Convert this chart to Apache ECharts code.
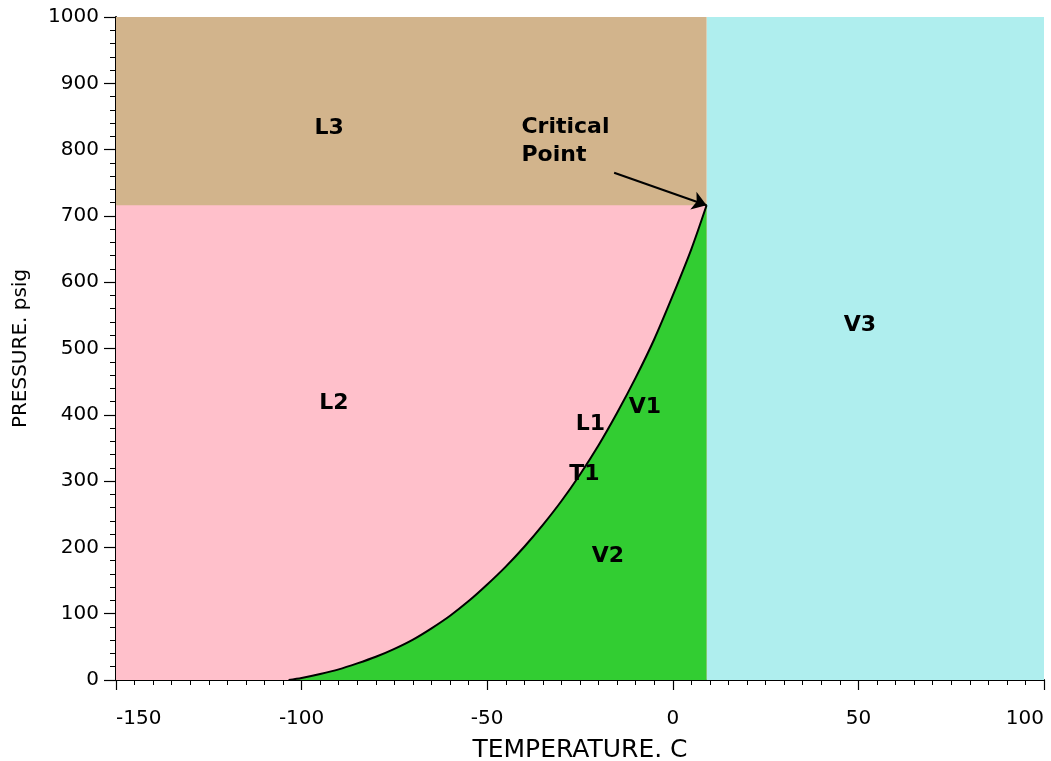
<!DOCTYPE html>
<html>
<head>
<meta charset="utf-8">
<script src="https://cdn.jsdelivr.net/npm/echarts@6/dist/echarts.min.js"></script>
<style>html,body{margin:0;padding:0;background:#fff}#c{width:1051px;height:761px}</style>
</head>
<body>
<div id="c"></div>
<script>
// Vapour-pressure curve (temperature in C, pressure in psig)
const temperature = [-103.5, -100, -95, -90, -85, -80, -75, -70, -65, -60, -55, -50, -45, -40, -35, -30, -25, -20, -15, -10, -5, 0, 5, 9.1];
const pressure    = [0, 3, 9, 16, 25, 35, 47, 61, 78, 97, 119, 144, 171, 201, 234, 270, 310, 354, 403, 456, 514, 580, 650, 716];
// Critical point and axis extents
const critical = [9.1, 716];
const xRange = [-150, 100];
const yRange = [0, 1000];
// Region labels
const regionNames = ['L3', 'L2', 'V3', 'V2', 'V1', 'L1', 'T1'];
const regionT     = [-92.6, -91.3, 50.4, -17.5, -7.5, -22.2, -23.8];
const regionP     = [832, 418, 535, 186, 412, 385, 310];
// Critical point annotation
const noteText = 'Critical\nPoint';
const noteAt = [-40.9, 813];
const arrowFrom = [-15.8, 765];

const COL = { tan: '#D2B48C', pink: '#FFC0CB', green: '#32CD32', cyan: '#AFEEEE' };

function rect(x0, x1, yTop, color) {
  return {
    type: 'line', data: [[x0, yTop], [x1, yTop]], showSymbol: false, silent: true,
    lineStyle: { width: 0, opacity: 0 }, areaStyle: { color: color, opacity: 1, origin: 'start' }
  };
}

const curve = temperature.map((t, i) => [t, pressure[i]]);
const labels = regionNames.map((n, i) => ({ name: n, value: [regionT[i], regionP[i]] }));

const chart = echarts.init(document.getElementById('c'), null, { renderer: 'canvas' });
chart.setOption({
  animation: false,
  backgroundColor: '#ffffff',
  textStyle: { fontFamily: 'DejaVu Sans' },
  grid: { left: 116, right: 7, top: 17, bottom: 81, outerBoundsMode: 'none', containLabel: false },
  xAxis: {
    type: 'value', min: xRange[0], max: xRange[1], interval: 50,
    name: 'TEMPERATURE. C', nameLocation: 'middle', nameGap: 58,
    nameTextStyle: { color: '#000', fontSize: 25, fontFamily: 'DejaVu Sans' },
    axisLine: { show: true, onZero: false, lineStyle: { color: '#000', width: 2 } },
    axisTick: { show: true, inside: false, length: 10, lineStyle: { color: '#000', width: 1.2 } },
    minorTick: { show: true, splitNumber: 10, length: 5, lineStyle: { color: '#000', width: 1 } },
    axisLabel: { color: '#000', fontSize: 20, margin: 29, fontFamily: 'DejaVu Sans', formatter: v => String(v),
      alignMinLabel: 'left', alignMaxLabel: 'right' },
    splitLine: { show: false }
  },
  yAxis: {
    type: 'value', min: yRange[0], max: yRange[1], interval: 100,
    name: 'PRESSURE. psig', nameLocation: 'middle', nameGap: 85, nameRotate: 90,
    nameTextStyle: { color: '#000', fontSize: 20, fontFamily: 'DejaVu Sans' },
    axisLine: { show: true, onZero: false, lineStyle: { color: '#000', width: 2 } },
    axisTick: { show: true, inside: false, length: 12, lineStyle: { color: '#000', width: 1.2 } },
    minorTick: { show: true, splitNumber: 5, length: 6, lineStyle: { color: '#000', width: 1 } },
    axisLabel: { color: '#000', fontSize: 20, margin: 17, fontFamily: 'DejaVu Sans', formatter: v => String(v) },
    splitLine: { show: false }
  },
  series: [
    rect(critical[0], xRange[1], yRange[1], COL.cyan),
    rect(xRange[0], critical[0], yRange[1], COL.tan),
    rect(xRange[0], critical[0], critical[1], COL.pink),
    {
      type: 'line', data: curve, showSymbol: false, smooth: 0.3, silent: true,
      lineStyle: { color: '#000', width: 2 },
      areaStyle: { color: COL.green, opacity: 1, origin: 'start' },
      markLine: {
        silent: true, symbol: ['none', 'arrow'], symbolSize: 14,
        lineStyle: { color: '#000', width: 2, type: 'solid' },
        itemStyle: { color: '#000' },
        label: { show: false },
        data: [[{ coord: arrowFrom }, { coord: critical }]]
      },
      markPoint: {
        silent: true, symbol: 'circle', symbolSize: 1,
        itemStyle: { color: 'rgba(0,0,0,0)' },
        label: { show: true, position: 'inside', formatter: '{b}',
          color: '#000', fontSize: 22, fontWeight: 'bold', fontFamily: 'DejaVu Sans' },
        data: labels.map(d => ({ name: d.name, coord: d.value })).concat([{
          name: noteText, coord: noteAt,
          label: { position: 'right', distance: 0, align: 'left', lineHeight: 28 }
        }])
      }
    }
  ]
});
</script>
</body>
</html>
